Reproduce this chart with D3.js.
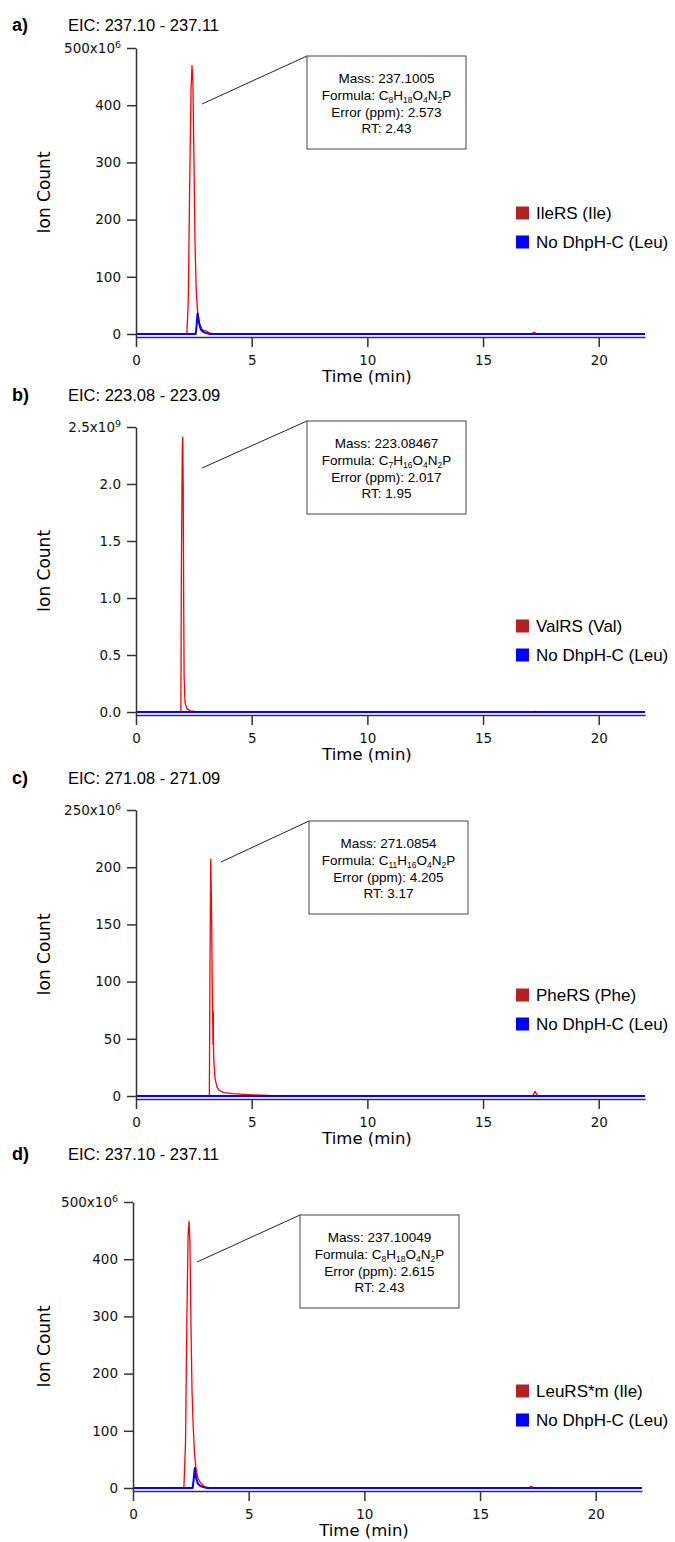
<!DOCTYPE html>
<html>
<head>
<meta charset="utf-8">
<script src="https://cdn.jsdelivr.net/npm/d3@7"></script>
<style>
  body { margin: 0; background: #fff; }
  svg { display: block; }
</style>
</head>
<body>
<div id="chart"></div>
<script>
// time axis (min), same for every panel
var timeTicks = [0, 5, 10, 15, 20];

// a) EIC 237.10 - 237.11, values in 10^6 counts
var aRedT = [0, 2.2, 2.26, 2.32, 2.38, 2.42, 2.46, 2.5, 2.55, 2.6, 2.66, 2.75, 2.85, 2.95, 3.05, 3.15, 3.3, 17.1, 17.22, 17.3, 22];
var aRedV = [0.5, 0.5, 60, 260, 430, 469, 440, 320, 160, 80, 40, 18, 8, 6, 5, 2, 0.5, 0.5, 3, 0.5, 0.5];
var aBlueT = [0, 2.58, 2.62, 2.66, 2.72, 2.8, 2.9, 3.0, 3.2, 22];
var aBlueV = [0, 0, 15, 36, 20, 8, 4, 2, 0, 0];

// b) EIC 223.08 - 223.09, values in 10^9 counts
var bRedT = [0, 1.94, 1.96, 2.0, 2.02, 2.04, 2.06, 2.08, 2.12, 2.2, 2.35, 2.6, 17.2, 17.25, 17.3, 22];
var bRedV = [0.002, 0.002, 1.2, 2.3, 2.41, 2.0, 1.0, 0.3, 0.08, 0.03, 0.01, 0.003, 0.002, 0.006, 0.002, 0.002];
var bBlueT = [0, 22];
var bBlueV = [0, 0];

// c) EIC 271.08 - 271.09, values in 10^6 counts
var cRedT = [0, 3.17, 3.2, 3.23, 3.26, 3.3, 3.33, 3.34, 3.35, 3.37, 3.42, 3.5, 3.6, 3.8, 4.2, 5.0, 6.0, 17.15, 17.25, 17.35, 22];
var cRedV = [0.3, 0.3, 120, 207, 170, 90, 45, 74, 42, 28, 15, 8, 5, 3, 2, 1, 0.3, 0.3, 4, 0.3, 0.3];
var cBlueT = [0, 22];
var cBlueV = [0, 0];

// d) EIC 237.10 - 237.11, values in 10^6 counts
var dRedT = [0, 2.2, 2.27, 2.33, 2.38, 2.42, 2.46, 2.5, 2.55, 2.6, 2.66, 2.72, 2.8, 2.9, 3.0, 3.1, 3.3, 17.1, 17.22, 17.3, 22];
var dRedV = [0.5, 0.5, 80, 300, 440, 466, 430, 300, 170, 110, 60, 35, 18, 10, 6, 2, 0.5, 0.5, 3, 0.5, 0.5];
var dBlueT = [0, 2.58, 2.62, 2.67, 2.72, 2.8, 2.9, 3.0, 3.2, 22];
var dBlueV = [0, 0, 14, 35, 19, 8, 4, 2, 0, 0];

// y ticks and labels
var yTicksA = [0, 100, 200, 300, 400, 500];
var yTicksB = [0, 0.5, 1.0, 1.5, 2.0, 2.5];
var yTicksC = [0, 50, 100, 150, 200, 250];
var yTicksD = [0, 100, 200, 300, 400, 500];

var panelLetters = ["a)", "b)", "c)", "d)"];
var eicLabels = ["EIC: 237.10 - 237.11", "EIC: 223.08 - 223.09", "EIC: 271.08 - 271.09", "EIC: 237.10 - 237.11"];
var legendRed = ["IleRS (Ile)", "ValRS (Val)", "PheRS (Phe)", "LeuRS*m (Ile)"];
var legendBlue = "No DhpH-C (Leu)";

var masses = ["Mass: 237.1005", "Mass: 223.08467", "Mass: 271.0854", "Mass: 237.10049"];
// formula as [element, count] pairs
var formulas = [
  [["C", "8"], ["H", "18"], ["O", "4"], ["N", "2"], ["P", ""]],
  [["C", "7"], ["H", "16"], ["O", "4"], ["N", "2"], ["P", ""]],
  [["C", "11"], ["H", "16"], ["O", "4"], ["N", "2"], ["P", ""]],
  [["C", "8"], ["H", "18"], ["O", "4"], ["N", "2"], ["P", ""]]
];
var errors = ["Error (ppm): 2.573", "Error (ppm): 2.017", "Error (ppm): 4.205", "Error (ppm): 2.615"];
var rts = ["RT: 2.43", "RT: 1.95", "RT: 3.17", "RT: 2.43"];

var exponents = ["6", "9", "6", "6"];

var series = [
  {red: [aRedT, aRedV], blue: [aBlueT, aBlueV], ticks: yTicksA, fmt: function(d){ return String(d); }},
  {red: [bRedT, bRedV], blue: [bBlueT, bBlueV], ticks: yTicksB, fmt: d3.format(".1f")},
  {red: [cRedT, cRedV], blue: [cBlueT, cBlueV], ticks: yTicksC, fmt: function(d){ return String(d); }},
  {red: [dRedT, dRedV], blue: [dBlueT, dBlueV], ticks: yTicksD, fmt: function(d){ return String(d); }}
];

// layout of each panel on the page (pixels)
var layout = [
  {x0: 136, top: 48,   zero: 334,  title: 31,   box: [307, 56],   tip: [202, 104],  leg: -121},
  {x0: 136, top: 427,  zero: 712,  title: 401,  box: [307, 421],  tip: [202, 468],  leg: -86},
  {x0: 136, top: 810,  zero: 1096, title: 784,  box: [309, 821],  tip: [221, 862],  leg: -101},
  {x0: 133, top: 1202, zero: 1488, title: 1160, box: [300, 1215], tip: [197, 1262], leg: -97}
];

var W = 675, H = 1542;
var axisColor = "#333";
var tickFont = "'DejaVu Sans', sans-serif";
var textFont = "'Liberation Sans', Arial, sans-serif";

var svg = d3.select("#chart").append("svg")
    .attr("width", W)
    .attr("height", H);

series.forEach(function(s, i) {
    var L = layout[i];
    var ymax = s.ticks[s.ticks.length - 1];
    var g = svg.append("g");

    var x = d3.scaleLinear().domain([0, 22]).range([L.x0, L.x0 + 509]);
    var y = d3.scaleLinear().domain([-ymax * 0.0105, ymax]).range([L.zero + 3, L.top]);

    // panel letter + EIC title
    g.append("text")
        .attr("x", 12).attr("y", L.title)
        .attr("font-family", textFont).attr("font-weight", "bold")
        .attr("font-size", 18).text(panelLetters[i]);
    g.append("text")
        .attr("x", 68).attr("y", L.title)
        .attr("font-family", textFont).attr("font-size", 16.5)
        .text(eicLabels[i]);

    // curves: red first, blue on top
    var line = d3.line()
        .x(function(d) { return x(d[0]); })
        .y(function(d) { return y(d[1]); });

    var redPts = d3.zip(s.red[0], s.red[1]);
    var bluePts = d3.zip(s.blue[0], s.blue[1]);

    g.append("path")
        .datum(redPts)
        .attr("d", line)
        .attr("fill", "none")
        .attr("stroke", "#ff0000")
        .attr("stroke-width", 1.3)
        .attr("stroke-linejoin", "round");

    g.append("path")
        .datum(bluePts)
        .attr("d", line)
        .attr("fill", "none")
        .attr("stroke", "#0000ff")
        .attr("stroke-width", 2)
        .attr("stroke-linejoin", "round");

    // axes
    var yAxis = d3.axisLeft(y)
        .tickValues(s.ticks)
        .tickFormat(s.fmt)
        .tickSize(9).tickSizeOuter(0).tickPadding(6);
    var yg = g.append("g")
        .attr("transform", "translate(" + L.x0 + ",0)")
        .call(yAxis);

    var xAxis = d3.axisBottom(x)
        .tickValues(timeTicks)
        .tickSize(10).tickSizeOuter(0).tickPadding(8);
    var xg = g.append("g")
        .attr("transform", "translate(0," + (L.zero + 3) + ")")
        .call(xAxis);

    [yg, xg].forEach(function(ax) {
        ax.select(".domain").attr("stroke", axisColor).attr("stroke-width", 1.5);
        ax.selectAll(".tick line").attr("stroke", axisColor).attr("stroke-width", 1.5);
        ax.selectAll(".tick text")
            .attr("fill", "#111")
            .attr("font-family", tickFont)
            .attr("font-size", 13.5);
    });

    // top tick gets the x10^n multiplier
    yg.selectAll(".tick text").each(function(d) {
        if (d !== ymax) return;
        var t = d3.select(this);
        var lbl = t.text();
        t.text(null);
        t.append("tspan").text(lbl + "x10");
        t.append("tspan").attr("dy", "-0.55em").attr("font-size", "0.7em").text(exponents[i]);
    });

    // axis titles
    g.append("text")
        .attr("transform", "translate(50," + ((L.top + L.zero + 3) / 2) + ") rotate(-90)")
        .attr("text-anchor", "middle")
        .attr("font-family", tickFont).attr("font-size", 17)
        .text("Ion Count");
    g.append("text")
        .attr("x", L.x0 + 231).attr("y", L.zero + 48)
        .attr("text-anchor", "middle")
        .attr("font-family", tickFont).attr("font-size", 16.5)
        .text("Time (min)");

    // legend
    var legItems = [[legendRed[i], "#b22222"], [legendBlue, "#0000ff"]];
    legItems.forEach(function(it, k) {
        var cy = L.zero + L.leg + k * 29;
        g.append("rect")
            .attr("x", 516).attr("y", cy - 6.5)
            .attr("width", 13).attr("height", 13)
            .attr("fill", it[1]);
        g.append("text")
            .attr("x", 536).attr("y", cy + 6)
            .attr("font-family", textFont).attr("font-size", 17)
            .text(it[0]);
    });

    // annotation box with leader line
    var bx = L.box[0], by = L.box[1], bw = 159, bh = 93;
    g.append("line")
        .attr("x1", L.tip[0]).attr("y1", L.tip[1])
        .attr("x2", bx).attr("y2", by)
        .attr("stroke", "#222").attr("stroke-width", 1);
    g.append("rect")
        .attr("x", bx).attr("y", by)
        .attr("width", bw).attr("height", bh)
        .attr("fill", "#fff")
        .attr("stroke", "#444").attr("stroke-width", 1);

    var cx = bx + bw / 2;
    var annFont = 13.5;
    function annLine(txt, dy) {
        return g.append("text")
            .attr("x", cx).attr("y", by + dy)
            .attr("text-anchor", "middle")
            .attr("font-family", textFont).attr("font-size", annFont)
            .text(txt);
    }
    annLine(masses[i], 27);
    var ft = g.append("text")
        .attr("x", cx).attr("y", by + 44)
        .attr("text-anchor", "middle")
        .attr("font-family", textFont).attr("font-size", annFont);
    ft.append("tspan").text("Formula: ");
    var lowered = false;
    formulas[i].forEach(function(p) {
        ft.append("tspan").attr("dy", lowered ? -3 : 0).text(p[0]);
        lowered = false;
        if (p[1]) {
            ft.append("tspan").attr("dy", 3).attr("font-size", 8.5).text(p[1]);
            lowered = true;
        }
    });
    annLine(errors[i], 61);
    annLine(rts[i], 77);
});
</script>
</body>
</html>
